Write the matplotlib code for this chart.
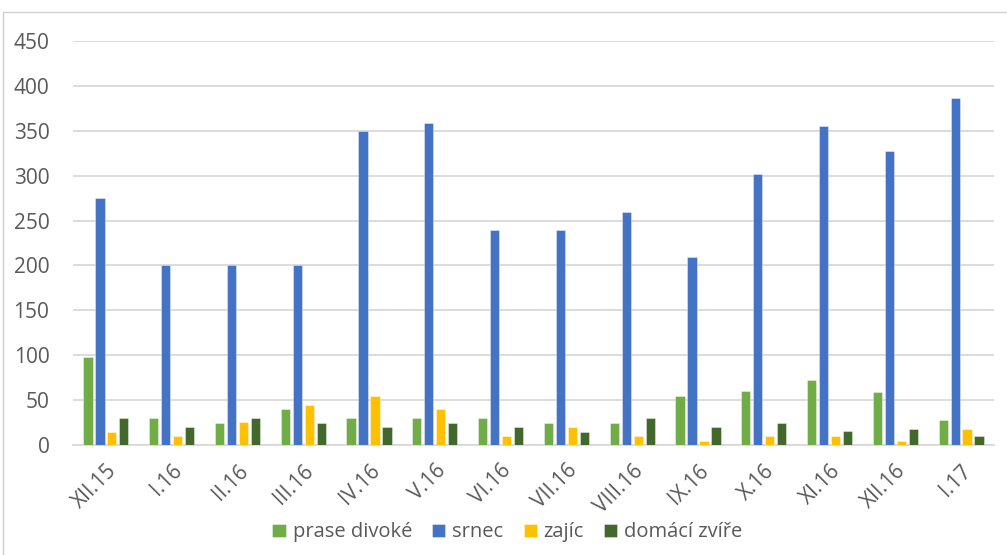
import matplotlib
matplotlib.use("Agg")
import matplotlib.pyplot as plt
import numpy as np
from matplotlib.patches import Rectangle

plt.rcParams['font.family'] = ['Open Sans', 'DejaVu Sans']

months = ["XII.15", "I.16", "II.16", "III.16", "IV.16", "V.16", "VI.16",
          "VII.16", "VIII.16", "IX.16", "X.16", "XI.16", "XII.16", "I.17"]
prase_divoke = [98, 30, 25, 40, 30, 30, 30, 25, 25, 55, 60, 72, 59, 28]
srnec = [275, 200, 200, 200, 350, 359, 240, 239, 259, 209, 302, 355, 327, 387]
zajic = [15, 10, 26, 45, 55, 40, 10, 20, 10, 5, 10, 10, 5, 18]
domaci_zvire = [30, 20, 30, 25, 20, 25, 20, 15, 30, 20, 25, 16, 18, 10]

series = [("prase divoké", prase_divoke, "#70AD47"),
          ("srnec", srnec, "#4472C4"),
          ("zajíc", zajic, "#FFC000"),
          ("domácí zvíře", domaci_zvire, "#43682B")]

text_color = "#595959"
grid_color = "#D9D9D9"

fig = plt.figure(figsize=(10.07, 5.55), dpi=100)
fig.patches.append(Rectangle((3 / 1007, -0.1), 1.2, (555 - 12) / 555 + 0.1,
                             transform=fig.transFigure, fill=False,
                             edgecolor="#D0D0D0", linewidth=1.0))

ax = fig.add_axes([73 / 1007, (555 - 445) / 555, (994 - 73) / 1007, (445 - 41) / 555])

x = np.arange(len(months))
slot = 0.182
width = 0.14
for i, (name, vals, col) in enumerate(series):
    ax.bar(x + (i - 1.5) * slot, vals, width=width, color=col,
           edgecolor=(1, 1, 1, 0.45), linewidth=0.6, label=name, zorder=3)

ax.set_xlim(-0.5, len(months) - 0.5)
ax.set_ylim(0, 450)
ax.set_yticks(np.arange(0, 451, 50))
ax.yaxis.grid(True, color=grid_color, linewidth=1.3, zorder=0)
ax.set_axisbelow(True)
for s in ["top", "right", "left"]:
    ax.spines[s].set_visible(False)
ax.spines["bottom"].set_color(grid_color)
ax.spines["bottom"].set_linewidth(1.3)
ax.tick_params(axis="both", length=0, colors=text_color, labelsize=15)
ax.tick_params(axis="y", pad=17)
ax.set_xticks(x)
ax.set_xticklabels(months, rotation=45, ha="right", rotation_mode="anchor")
ax.tick_params(axis="x", pad=11)

leg = fig.legend(loc="lower center", bbox_to_anchor=(0.504, -0.01), ncol=4,
                 frameon=False, fontsize=14.5, handlelength=0.65, handleheight=0.65,
                 handletextpad=0.35, columnspacing=1.0, labelcolor=text_color)

fig.savefig("out.png", dpi=100)
